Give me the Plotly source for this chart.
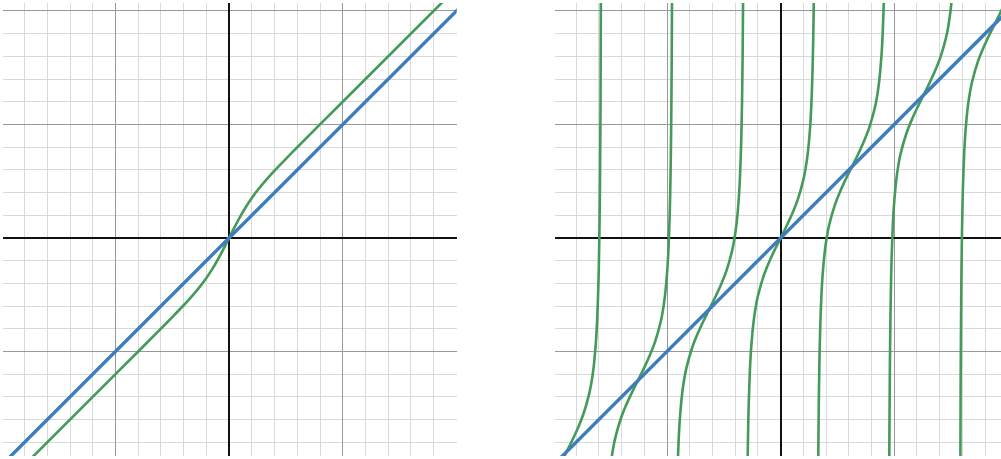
import plotly.graph_objects as go

# left panel
diag_x = [-2.2, 2.2]
diag_y = [-2.2, 2.2]

left_x = [-2.2, -1.0, -0.8, -0.6, -0.5, -0.4, -0.35, -0.3, -0.25, -0.2, -0.15, -0.1, -0.05, 0.0,
          0.05, 0.1, 0.15, 0.2, 0.25, 0.3, 0.35, 0.4, 0.5, 0.6, 0.8, 1.0, 2.2]
left_y = [-2.4, -1.2, -1.0, -0.799, -0.697, -0.593, -0.538, -0.481, -0.420, -0.352, -0.277, -0.192, -0.099, 0.0,
          0.099, 0.192, 0.277, 0.352, 0.420, 0.481, 0.538, 0.593, 0.697, 0.799, 1.0, 1.2, 2.4]

# right panel, one list per branch
b1_x = [-2.035, -1.985, -1.935, -1.885, -1.835, -1.785, -1.735, -1.685, -1.665, -1.645, -1.625, -1.615,
        -1.605, -1.600, -1.595, -1.590, -1.585, -1.580]
b1_y = [-2.221, -2.094, -1.986, -1.885, -1.784, -1.676, -1.549, -1.374, -1.272, -1.131, -0.905, -0.724,
        -0.445, -0.238, 0.053, 0.491, 1.235, 2.785]

b2_x = [-1.552, -1.547, -1.542, -1.537, -1.527, -1.517, -1.497, -1.477, -1.457, -1.407, -1.357, -1.307,
        -1.257, -1.207, -1.157, -1.107, -1.057, -1.037, -1.017, -0.997, -0.987, -0.977, -0.972, -0.967,
        -0.962, -0.957, -0.952]
b2_y = [-3.633, -3.194, -2.904, -2.696, -2.418, -2.237, -2.011, -1.870, -1.768, -1.593, -1.466, -1.358,
        -1.257, -1.156, -1.047, -0.920, -0.745, -0.644, -0.502, -0.276, -0.096, 0.183, 0.390, 0.681,
        1.119, 1.863, 3.413]

b3_x = [-0.933, -0.928, -0.923, -0.918, -0.913, -0.908, -0.898, -0.888, -0.868, -0.848, -0.828, -0.778,
        -0.728, -0.678, -0.628, -0.578, -0.528, -0.478, -0.428, -0.408, -0.388, -0.368, -0.358, -0.348,
        -0.343, -0.338, -0.333, -0.328, -0.323]
b3_y = [-5.298, -3.748, -3.004, -2.566, -2.275, -2.068, -1.789, -1.609, -1.383, -1.241, -1.140, -0.965,
        -0.838, -0.729, -0.628, -0.527, -0.419, -0.292, -0.117, -0.015, 0.126, 0.352, 0.533, 0.811,
        1.019, 1.309, 1.748, 2.492, 4.042]

b4_x = [-0.305, -0.3, -0.295, -0.29, -0.285, -0.28, -0.27, -0.26, -0.24, -0.22, -0.2, -0.15, -0.1, -0.05,
        0.0, 0.05, 0.1, 0.15, 0.2, 0.22, 0.24, 0.26, 0.27, 0.28, 0.285, 0.29, 0.295, 0.3, 0.305]
b4_y = [-4.67, -3.12, -2.376, -1.938, -1.647, -1.440, -1.161, -0.980, -0.754, -0.613, -0.512, -0.336,
        -0.209, -0.101, 0.0, 0.101, 0.209, 0.336, 0.512, 0.613, 0.754, 0.980, 1.161, 1.440, 1.647,
        1.938, 2.376, 3.12, 4.67]

b5_x = [0.323, 0.328, 0.333, 0.338, 0.343, 0.348, 0.358, 0.368, 0.388, 0.408, 0.428, 0.478, 0.528, 0.578,
        0.628, 0.678, 0.728, 0.778, 0.828, 0.848, 0.868, 0.888, 0.898, 0.908, 0.913, 0.918, 0.923,
        0.928, 0.933]
b5_y = [-4.042, -2.492, -1.748, -1.309, -1.019, -0.811, -0.533, -0.352, -0.126, 0.015, 0.117, 0.292,
        0.419, 0.527, 0.628, 0.729, 0.838, 0.965, 1.140, 1.241, 1.383, 1.609, 1.789, 2.068, 2.275,
        2.566, 3.004, 3.748, 5.298]

b6_x = [0.952, 0.957, 0.962, 0.967, 0.972, 0.977, 0.987, 0.997, 1.017, 1.037, 1.057, 1.107, 1.157, 1.207,
        1.257, 1.307, 1.357, 1.407, 1.457, 1.477, 1.497, 1.517, 1.527, 1.537, 1.542]
b6_y = [-3.413, -1.863, -1.119, -0.681, -0.390, -0.183, 0.096, 0.276, 0.502, 0.644, 0.745, 0.920,
        1.047, 1.156, 1.257, 1.358, 1.466, 1.593, 1.768, 1.870, 2.011, 2.237, 2.418, 2.696, 2.904]

b7_x = [1.580, 1.585, 1.590, 1.595, 1.600, 1.605, 1.615, 1.625, 1.645, 1.665, 1.685, 1.735, 1.785, 1.835,
        1.885, 1.935, 1.985]
b7_y = [-2.785, -1.235, -0.491, -0.053, 0.238, 0.445, 0.724, 0.905, 1.131, 1.272, 1.374, 1.549,
        1.676, 1.784, 1.885, 1.986, 2.094]

BLUE = "#3d7cbf"
GREEN = "#449a58"

branches = [(b1_x, b1_y), (b2_x, b2_y), (b3_x, b3_y), (b4_x, b4_y),
            (b5_x, b5_y), (b6_x, b6_y), (b7_x, b7_y)]

fig = go.Figure()

fig.add_trace(go.Scatter(x=left_x, y=left_y, mode="lines", xaxis="x", yaxis="y",
                         line=dict(color=GREEN, width=2.6, shape="spline", smoothing=0.8)))
fig.add_trace(go.Scatter(x=diag_x, y=diag_y, mode="lines", xaxis="x", yaxis="y",
                         line=dict(color=BLUE, width=3.4)))

for bx, by in branches:
    fig.add_trace(go.Scatter(x=bx, y=by, mode="lines", xaxis="x2", yaxis="y2",
                             line=dict(color=GREEN, width=2.6, shape="spline", smoothing=0.8)))
fig.add_trace(go.Scatter(x=diag_x, y=diag_y, mode="lines", xaxis="x2", yaxis="y2",
                         line=dict(color=BLUE, width=3.4)))

axis_style = dict(
    showticklabels=False, ticks="", dtick=1, tick0=0,
    showgrid=True, gridcolor="#999999", gridwidth=1,
    zeroline=True, zerolinecolor="#111111", zerolinewidth=1.8,
    showline=False, fixedrange=True,
    minor=dict(dtick=0.2, tick0=0, showgrid=True, gridcolor="#d9d9d9", gridwidth=1),
)

ydom = [3 / 459, 456 / 459]

fig.update_layout(
    width=1001, height=459,
    margin=dict(l=0, r=0, t=0, b=0),
    paper_bgcolor="white", plot_bgcolor="white",
    showlegend=False,
    xaxis=dict(domain=[3 / 1001, 456.7 / 1001], range=[-1.99, 2.003], **axis_style),
    yaxis=dict(domain=ydom, range=[-1.921, 2.070], **axis_style),
    xaxis2=dict(domain=[555 / 1001, 1.0], range=[-1.986, 1.940], anchor="y2", **axis_style),
    yaxis2=dict(domain=ydom, range=[-1.921, 2.070], anchor="x2", **axis_style),
)

# page body has an 8px default margin; drop it so the figure sits at the window corner
fig.write_html("out.html", config={"displayModeBar": False},
               post_script="document.body.style.margin='0';")
